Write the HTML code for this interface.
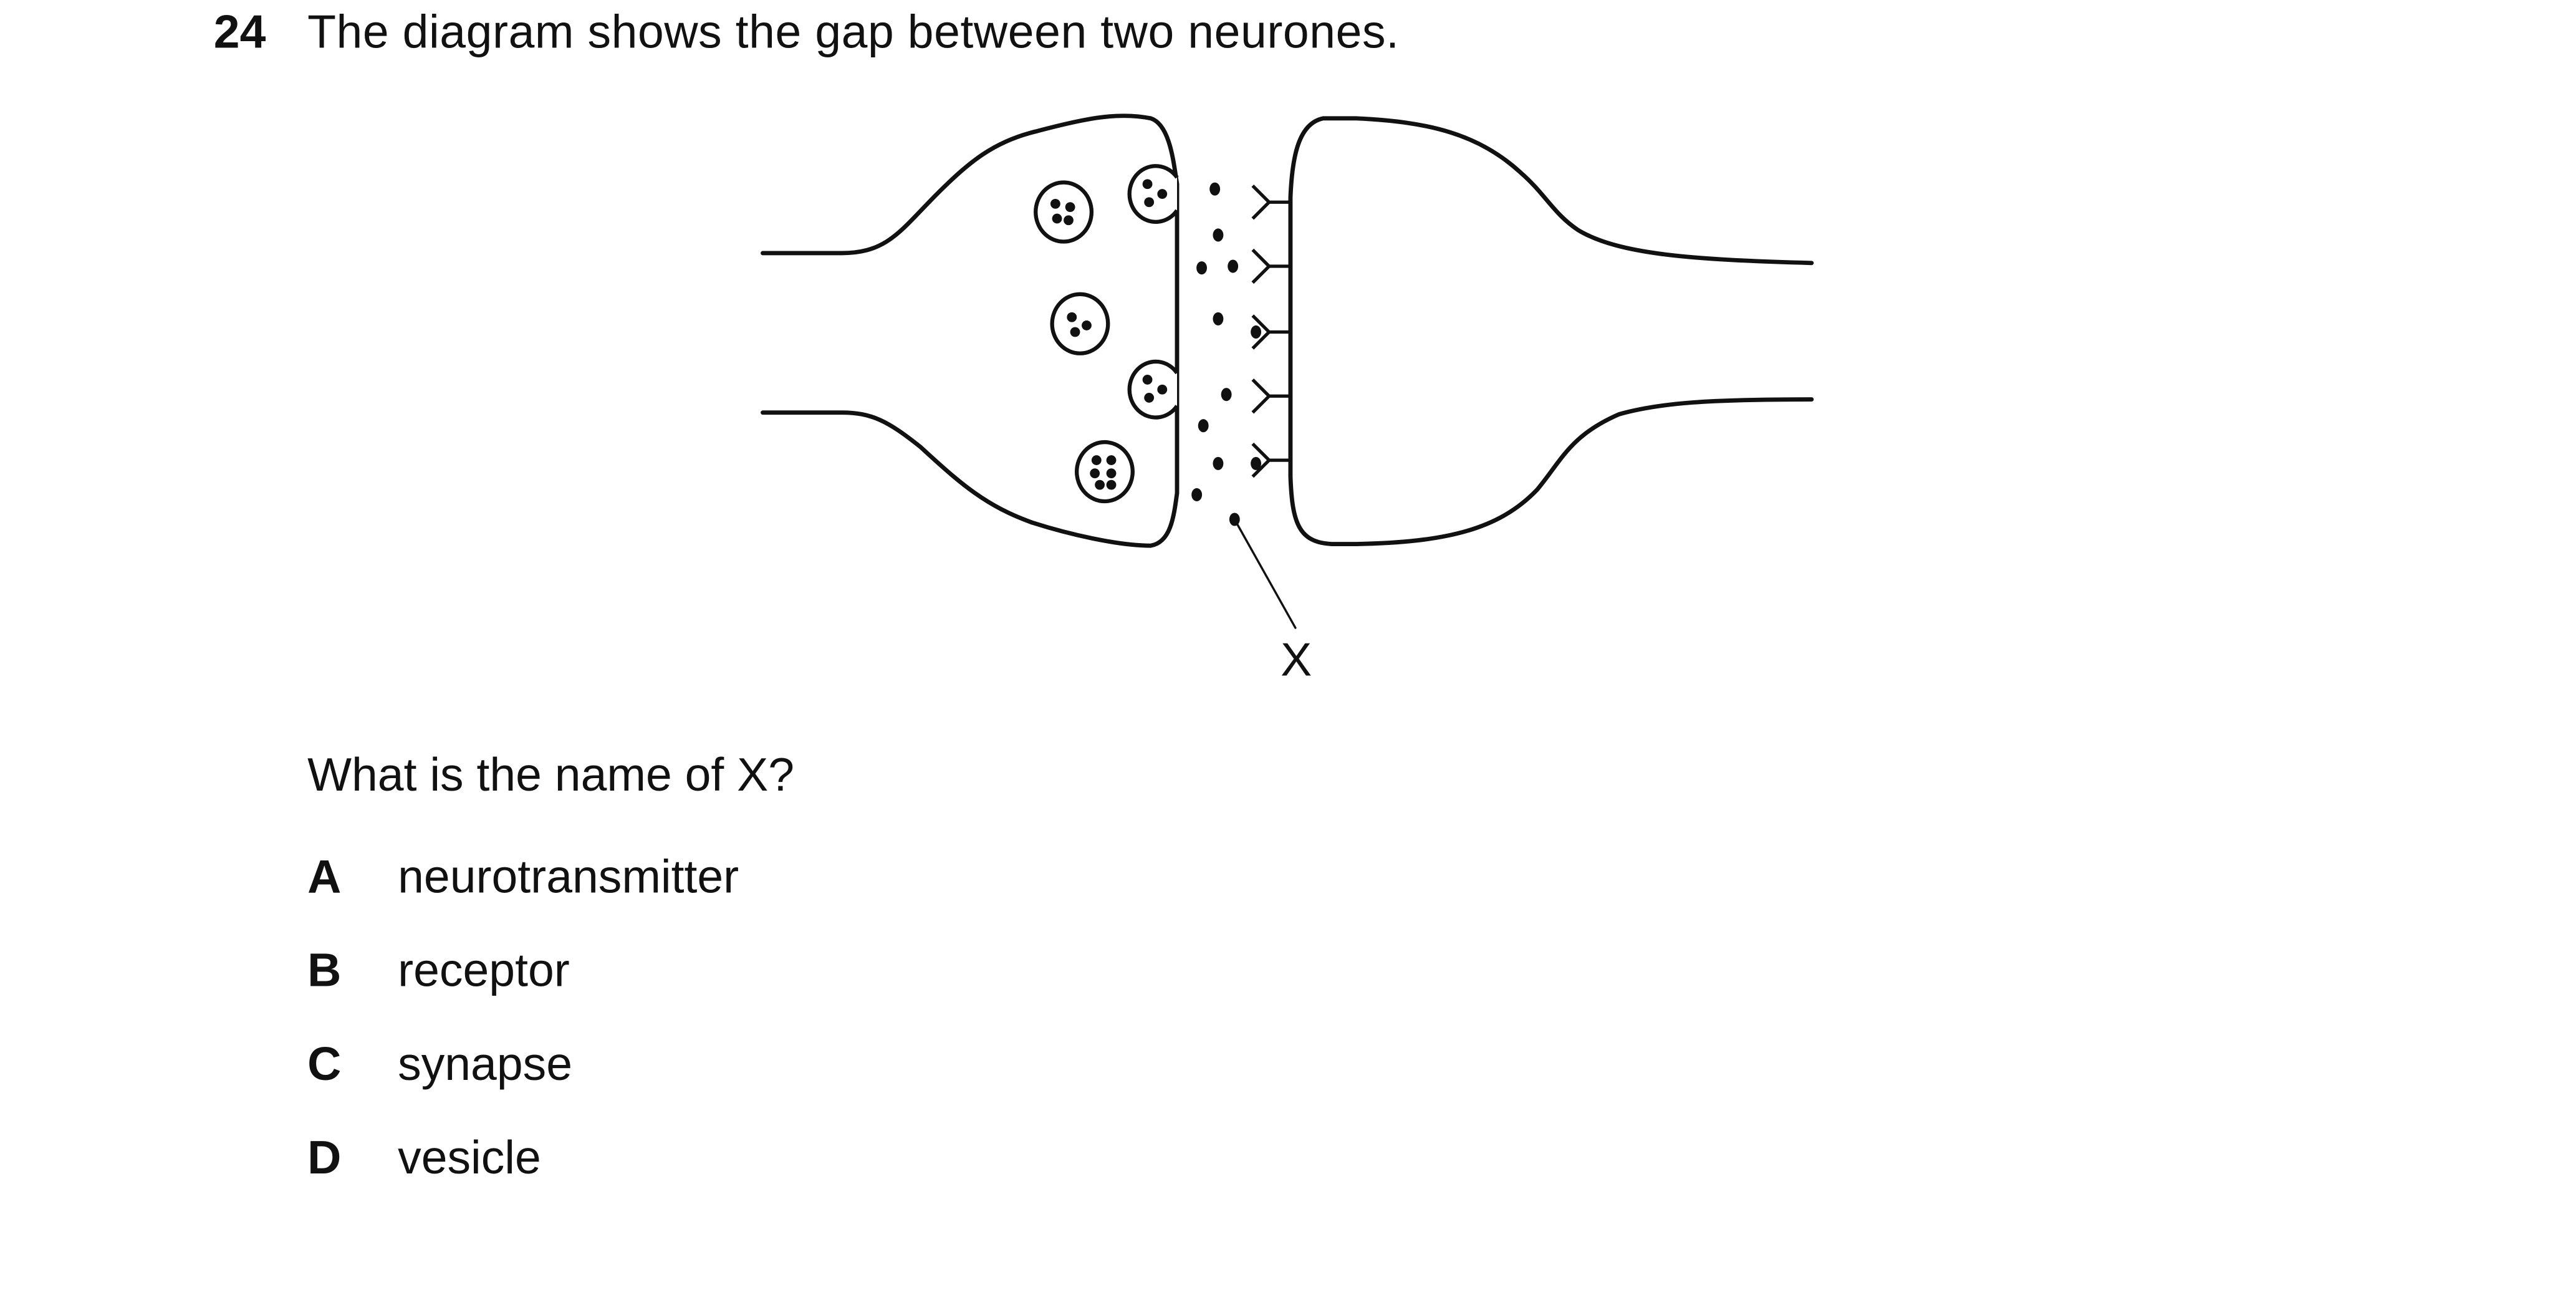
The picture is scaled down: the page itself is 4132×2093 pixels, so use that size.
<!DOCTYPE html>
<html><head><meta charset="utf-8"><style>
html,body{margin:0;padding:0;background:#fff;}
svg{display:block;}
text{font-family:"Liberation Sans",Arial,sans-serif;fill:#111;}
</style></head><body>
<svg width="4132" height="2093" viewBox="0 0 1567 794" preserveAspectRatio="none">
<g>
<text x="130" y="29" font-size="28.5" font-weight="bold">24</text>
<text x="187" y="29" font-size="28.5" textLength="664">The diagram shows the gap between two neurones.</text>
</g>
<g fill="none" stroke="#111" stroke-width="2.6" stroke-linecap="round">
<path d="M464,154 L512,154 C540,154 548,140 570,118 C590,98 605,86 630,80 C660,72 680,68 700,72 C712,76 714,100 716,112 L716,300 C714,315 712,330 700,332 C680,332 650,325 628,318 C600,308 585,295 560,272 C540,256 530,251 512,251 L464,251"/>
<path d="M1102,160 C1030,158 985,155 960,140 C945,130 940,118 925,105 C900,82 870,74 825,72 L805,72 C790,75 786,95 785,120 L785,290 C786,318 790,330 810,331 L825,331 C880,330 912,322 935,298 C950,280 955,265 985,252 C1010,245 1040,243 1102,243"/>
<path stroke-width="1.3" d="M751,316 L788,382"/>
</g>
<g id="vesicles" fill="none" stroke="#111" stroke-width="2.4"></g>
<g id="dots" fill="#111"></g>
<g id="receptors" fill="none" stroke="#111" stroke-width="2"></g>
<text x="779" y="411" font-size="28.5">X</text>
<g>
<text x="187" y="481" font-size="28.5">What is the name of X?</text>
<text x="187" y="543" font-size="28.5" font-weight="bold">A</text>
<text x="242" y="543" font-size="28.5">neurotransmitter</text>
<text x="187" y="600" font-size="28.5" font-weight="bold">B</text>
<text x="242" y="600" font-size="28.5">receptor</text>
<text x="187" y="657" font-size="28.5" font-weight="bold">C</text>
<text x="242" y="657" font-size="28.5">synapse</text>
<text x="187" y="714" font-size="28.5" font-weight="bold">D</text>
<text x="242" y="714" font-size="28.5">vesicle</text>
</g>
</svg>
<script>
const NS='http://www.w3.org/2000/svg';
const vesicleX=[647,657,672];
const vesicleY=[129,197,287];
const fusedY=[118,237];
const dotX=[739,741,731,750,741,764,746,732,741,764,728,751];
const dotY=[115,143,163,162,194,202,240,259,282,282,301,316];
const receptorY=[123,162,202,241,280];
const inner=[[[-5,-5],[4,-3],[-4,4],[3,5]],[[-5,-4],[4,1],[-3,5]],[[-5,-7],[4,-7],[-6,1],[4,1],[-3,8],[4,8]]];
const vg=document.getElementById('vesicles');
vesicleX.forEach((x,i)=>{
 const c=document.createElementNS(NS,'ellipse');
 c.setAttribute('cx',x);c.setAttribute('cy',vesicleY[i]);c.setAttribute('rx',17);c.setAttribute('ry',18);
 
 
 vg.appendChild(c);
 inner[i].forEach(p=>{const d=document.createElementNS(NS,'circle');d.setAttribute('cx',x+p[0]);d.setAttribute('cy',vesicleY[i]+p[1]);d.setAttribute('r',3);d.setAttribute('fill','#111');d.setAttribute('stroke','none');
 
 
 vg.appendChild(d);});
});
fusedY.forEach(y=>{
 const p=document.createElementNS(NS,'path');
 p.setAttribute('d',`M716,${y-10} A16,17 0 1 0 716,${y+10}`);
 p.setAttribute('fill','#fff');
 
 
 vg.appendChild(p);
 [[-5,-6],[4,0],[-4,5]].forEach(q=>{const d=document.createElementNS(NS,'circle');d.setAttribute('cx',703+q[0]);d.setAttribute('cy',y+q[1]);d.setAttribute('r',3);d.setAttribute('fill','#111');d.setAttribute('stroke','none');
 
 
 vg.appendChild(d);});
});
const dg=document.getElementById('dots');
dotX.forEach((x,i)=>{const d=document.createElementNS(NS,'ellipse');d.setAttribute('cx',x);d.setAttribute('cy',dotY[i]);d.setAttribute('rx',3.2);d.setAttribute('ry',4);
 
 
 dg.appendChild(d);});
const rg=document.getElementById('receptors');
receptorY.forEach(y=>{const p=document.createElementNS(NS,'path');p.setAttribute('d',`M785,${y} L772,${y} L762,${y-10} M772,${y} L762,${y+10}`);
 
 
 rg.appendChild(p);});
</script>
</body></html>
